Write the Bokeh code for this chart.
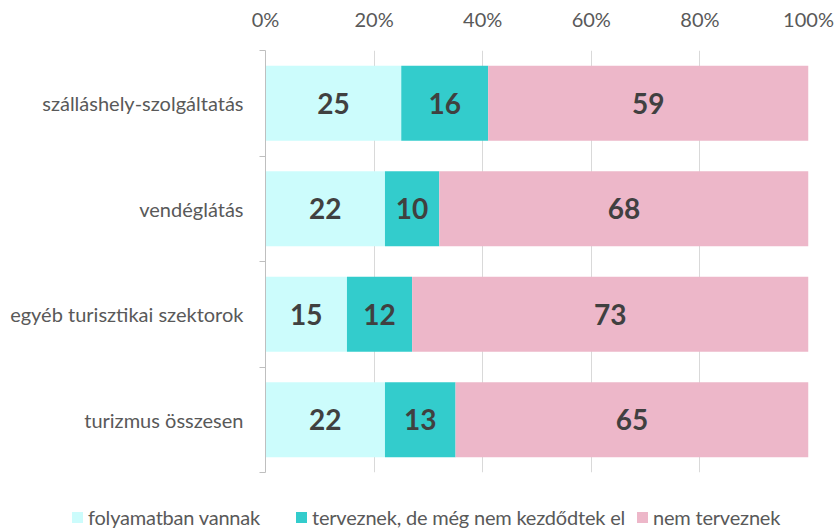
import numpy as np
from bokeh.plotting import figure
from bokeh.layouts import column
from bokeh.models import (Range1d, FixedTicker, PrintfTickFormatter, ColumnDataSource, Div)
from bokeh.core.properties import value
from bokeh.embed import file_html
from bokeh.resources import INLINE

categories = ["szálláshely-szolgáltatás", "vendéglátás", "egyéb turisztikai szektorok", "turizmus összesen"]
series_names = ["folyamatban vannak", "terveznek, de még nem kezdődtek el", "nem terveznek"]
folyamatban = [25, 22, 15, 22]
terveznek = [16, 10, 12, 13]
nem_terveznek = [59, 68, 73, 65]
x_ticks = [0, 20, 40, 60, 80, 100]

colors = ["#CCFCFC", "#33CCCC", "#EDB7C9"]
FONT = "Lato"
LABEL_C = "#595959"

n = len(categories)
ypos = np.arange(n)
series = [np.array(folyamatban), np.array(terveznek), np.array(nem_terveznek)]

p = figure(width=836, height=480, output_backend="svg", toolbar_location=None,
           x_axis_location="above", x_range=Range1d(0, 100),
           y_range=Range1d(n - 0.5, -0.5),
           min_border_left=265, min_border_right=28, min_border_top=50, min_border_bottom=8)
p.outline_line_color = None
p.background_fill_color = "white"

# top axis
xa = p.xaxis[0]
xa.ticker = FixedTicker(ticks=x_ticks)
xa.formatter = PrintfTickFormatter(format="%d%%")
xa.axis_line_color = None
xa.major_tick_line_color = None
xa.minor_tick_line_color = None
xa.major_tick_out = 0
xa.major_label_standoff = 20
xa.major_label_text_font = FONT
xa.major_label_text_font_size = "20px"
xa.major_label_text_color = LABEL_C

# left axis
ya = p.yaxis[0]
ya.ticker = FixedTicker(ticks=list(ypos), minor_ticks=list(np.arange(n + 1) - 0.5))
ya.major_label_overrides = {int(i): c for i, c in zip(ypos, categories)}
ya.major_tick_line_color = None
ya.major_tick_out = 0
ya.major_tick_in = 0
ya.minor_tick_out = 6
ya.minor_tick_in = 0
ya.minor_tick_line_color = "#BFBFBF"
ya.axis_line_color = "#BFBFBF"
ya.major_label_standoff = 16
ya.major_label_text_font = FONT
ya.major_label_text_font_size = "20px"
ya.major_label_text_color = LABEL_C

p.xgrid.grid_line_color = "#D9D9D9"
p.xgrid.ticker = FixedTicker(ticks=x_ticks)
p.ygrid.grid_line_color = None

left = np.zeros(n)
for name, vals, col in zip(series_names, series, colors):
    src = ColumnDataSource(dict(y=ypos, left=left.copy(), right=left + vals,
                                mid=left + vals / 2, lab=[str(v) for v in vals]))
    p.hbar(y="y", left="left", right="right", height=0.71, source=src,
           fill_color=col, line_color=None)
    p.text(x="mid", y="y", text="lab", source=src, text_align="center",
           text_baseline="middle", text_font=value(FONT), text_font_style="bold",
           text_font_size="28px", text_color="#404040")
    left = left + vals

# legend strip as HTML
legend_x = [72, 296, 637]
parts = []
for name, col, lx in zip(series_names, colors, legend_x):
    parts.append(
        f'<div style="position:absolute;left:{lx}px;top:24px;height:26px;display:flex;'
        f'align-items:center;white-space:nowrap;font-family:{FONT};font-size:20px;'
        f'letter-spacing:-0.2px;color:{LABEL_C};">'
        f'<span style="display:inline-block;width:11px;height:11px;background:{col};'
        f'margin-right:5px;"></span>{name}</div>')
legend_div = Div(text='<div style="position:relative;width:836px;height:49px;">' + "".join(parts) + '</div>',
                 width=836, height=49, margin=0)

open("out.html", "w").write(file_html(column(p, legend_div, spacing=0), INLINE))
